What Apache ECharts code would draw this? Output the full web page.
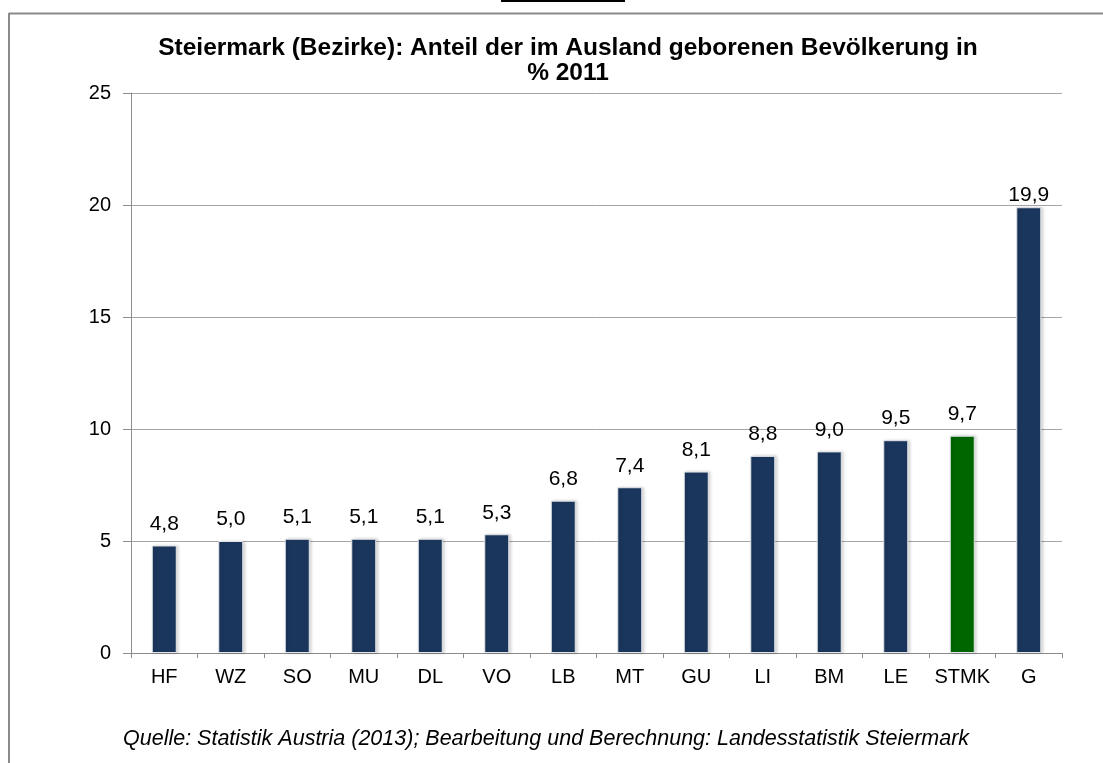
<!DOCTYPE html>
<html lang="de">
<head>
    <meta charset="UTF-8">
    <title>Steiermark (Bezirke): Anteil der im Ausland geborenen Bevölkerung</title>
    <script src="https://cdn.jsdelivr.net/npm/echarts@6/dist/echarts.min.js"></script>
    <style>
        html, body { margin: 0; padding: 0; background: #fff; }
        #chart { width: 1103px; height: 763px; }
    </style>
</head>
<body>
<div id="chart"></div>
<script>
    // Bezirke und Anteile (%)
    const bezirke = ['HF', 'WZ', 'SO', 'MU', 'DL', 'VO', 'LB', 'MT', 'GU', 'LI', 'BM', 'LE', 'STMK', 'G'];
    const anteile = [4.8, 5.0, 5.1, 5.1, 5.1, 5.3, 6.8, 7.4, 8.1, 8.8, 9.0, 9.5, 9.7, 19.9];
    const yTicks = [0, 5, 10, 15, 20, 25];

    const navy = '#1b365d';
    const green = '#006600';
    const font = '"Liberation Sans", Arial, sans-serif';

    const chart = echarts.init(document.getElementById('chart'));
    chart.setOption({
        animation: false,
        title: {
            text: 'Steiermark (Bezirke): Anteil der im Ausland geborenen Bevölkerung in\n% 2011',
            left: 563,
            textAlign: 'center',
            top: 31,
            textStyle: { fontFamily: font, fontSize: 24.5, fontWeight: 'bold', color: '#000', lineHeight: 25 }
        },
        grid: { left: 131, right: 41, top: 93, bottom: 110 },
        xAxis: {
            type: 'category',
            data: bezirke,
            axisLine: { lineStyle: { color: '#8c8c8c', width: 1 } },
            axisTick: { show: true, length: 5, lineStyle: { color: '#8c8c8c' } },
            axisLabel: { interval: 0, fontFamily: font, fontSize: 20, color: '#000', margin: 14 }
        },
        yAxis: {
            type: 'value',
            min: yTicks[0],
            max: yTicks[yTicks.length - 1],
            interval: 5,
            axisLine: { show: true, lineStyle: { color: '#8c8c8c' } },
            axisTick: { show: true, inside: false, length: 8, lineStyle: { color: '#8c8c8c' } },
            splitLine: { lineStyle: { color: '#a6a6a6', width: 1 } },
            axisLabel: { fontFamily: font, fontSize: 20, color: '#000', margin: 20 }
        },
        series: [{
            type: 'bar',
            barWidth: 25,
            data: anteile.map((v, i) => ({
                value: v,
                itemStyle: { color: bezirke[i] === 'STMK' ? green : navy },
                label: bezirke[i] === 'G' ? { distance: 2 } : undefined
            })),
            itemStyle: {
                borderColor: '#e2e6ea',
                borderWidth: 1,
                shadowColor: 'rgba(0,0,0,0.18)',
                shadowBlur: 3,
                shadowOffsetX: 2
            },
            label: {
                show: true,
                position: 'top',
                distance: 11,
                fontFamily: font,
                fontSize: 21,
                color: '#000',
                formatter: p => p.value.toFixed(1).replace('.', ',')
            }
        }],
        graphic: [
            { type: 'rect', shape: { x: 501, y: 0, width: 124, height: 2 }, style: { fill: '#000' } },
            { type: 'line', shape: { x1: 9, y1: 13.5, x2: 1103, y2: 13.5 }, style: { stroke: '#8a8a8a', lineWidth: 2 } },
            { type: 'line', shape: { x1: 9, y1: 13, x2: 9, y2: 763 }, style: { stroke: '#8a8a8a', lineWidth: 2 } },
            {
                type: 'text',
                left: 123,
                top: 728,
                style: {
                    text: 'Quelle: Statistik Austria (2013); Bearbeitung und Berechnung: Landesstatistik Steiermark',
                    font: 'italic 21.5px ' + font,
                    fill: '#000'
                }
            }
        ]
    });
</script>
</body>
</html>
